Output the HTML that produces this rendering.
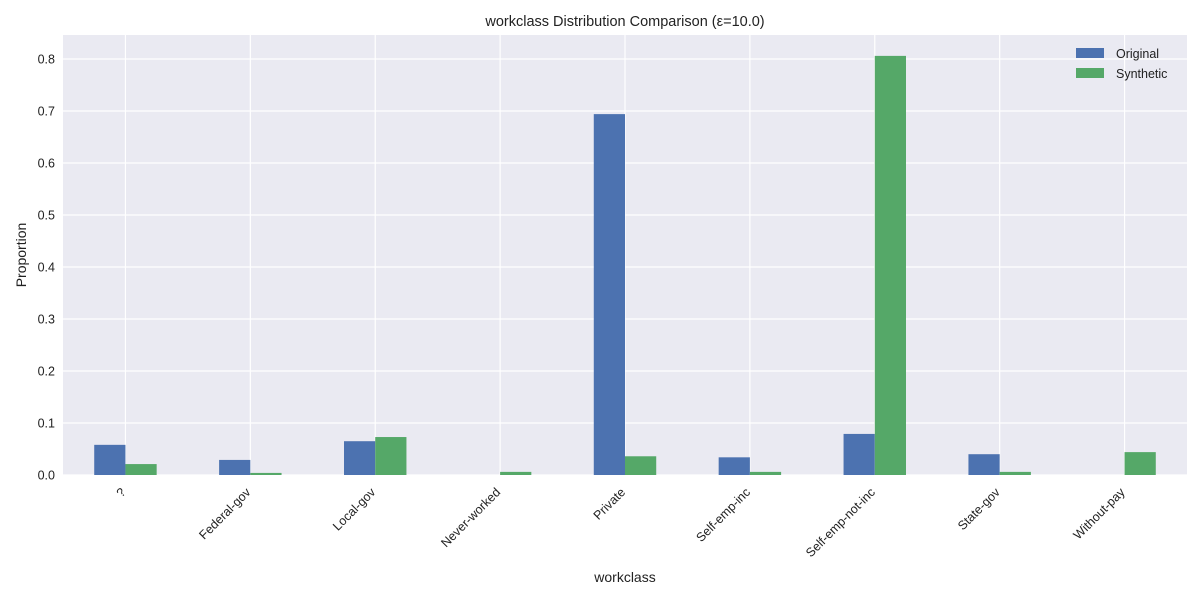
<!DOCTYPE html>
<html><head><meta charset="utf-8"><style>body{margin:0;background:#fff}svg{display:block;font-family:"Liberation Sans","DejaVu Sans",sans-serif}</style></head>
<body>
<svg id="chart" width="1200" height="600" xmlns="http://www.w3.org/2000/svg">
<rect x="0" y="0" width="1200" height="600" fill="#fff"/>
<rect x="63" y="35" width="1124" height="440" fill="#eaeaf2"/>
<g id="grid"></g><g id="bars"></g><g id="axes"></g>
<text x="625" y="26" text-anchor="middle" font-size="14.5" fill="#222">workclass Distribution Comparison (ε=10.0)</text>
<text x="625" y="582" text-anchor="middle" font-size="14" fill="#222">workclass</text>
<text transform="translate(26,255) rotate(-90)" text-anchor="middle" font-size="14" fill="#222">Proportion</text>
<g>
<rect x="1076" y="48" width="28" height="10" fill="#4c72b0"/>
<text x="1116" y="58" font-size="12.5" fill="#222">Original</text>
<rect x="1076" y="68" width="28" height="10" fill="#55a868"/>
<text x="1116" y="78" font-size="12.5" fill="#222">Synthetic</text>
</g>
</svg>
<script>
const categories=["?","Federal-gov","Local-gov","Never-worked","Private","Self-emp-inc","Self-emp-not-inc","State-gov","Without-pay"];
const original=[0.058,0.029,0.065,0,0.694,0.034,0.079,0.040,0];
const synthetic=[0.021,0.004,0.073,0.006,0.036,0.006,0.806,0.006,0.044];
const yTicks=[0,0.1,0.2,0.3,0.4,0.5,0.6,0.7,0.8];
const ns="http://www.w3.org/2000/svg";
const L=63,R=1187,T=35,B=475;
const step=(R-L)/categories.length;
const xc=i=>L+step*(i+0.5);
const y=v=>B-v*520;
const bw=step*0.25;
function mk(t,a,p){const e=document.createElementNS(ns,t);for(const k in a)e.setAttribute(k,a[k]);p.appendChild(e);return e;}
const grid=document.getElementById('grid'),bars=document.getElementById('bars'),axes=document.getElementById('axes');
yTicks.forEach(v=>{
 const g=mk('line',{x1:L,x2:R,y1:y(v),y2:y(v),stroke:'#fff','stroke-width':1.2},grid);
 
 
 const t=mk('text',{x:L-8,y:y(v)+4.5,'text-anchor':'end','font-size':12.5,fill:'#222'},axes);
 t.textContent=v.toFixed(1);
 
 
});
categories.forEach((c,i)=>{
 const g=mk('line',{x1:xc(i),x2:xc(i),y1:T,y2:B,stroke:'#fff','stroke-width':1.2},grid);
 
 
 const b1=mk('rect',{x:xc(i)-bw,y:y(original[i]),width:bw,height:B-y(original[i]),fill:'#4c72b0'},bars);
 
 
 const b2=mk('rect',{x:xc(i),y:y(synthetic[i]),width:bw,height:B-y(synthetic[i]),fill:'#55a868'},bars);
 
 
 const t=mk('text',{transform:`translate(${xc(i)+1},${B+18}) rotate(-45)`,'text-anchor':'end','font-size':12.5,fill:'#222'},axes);
 t.textContent=c;
 
 
});
</script>
</body></html>
